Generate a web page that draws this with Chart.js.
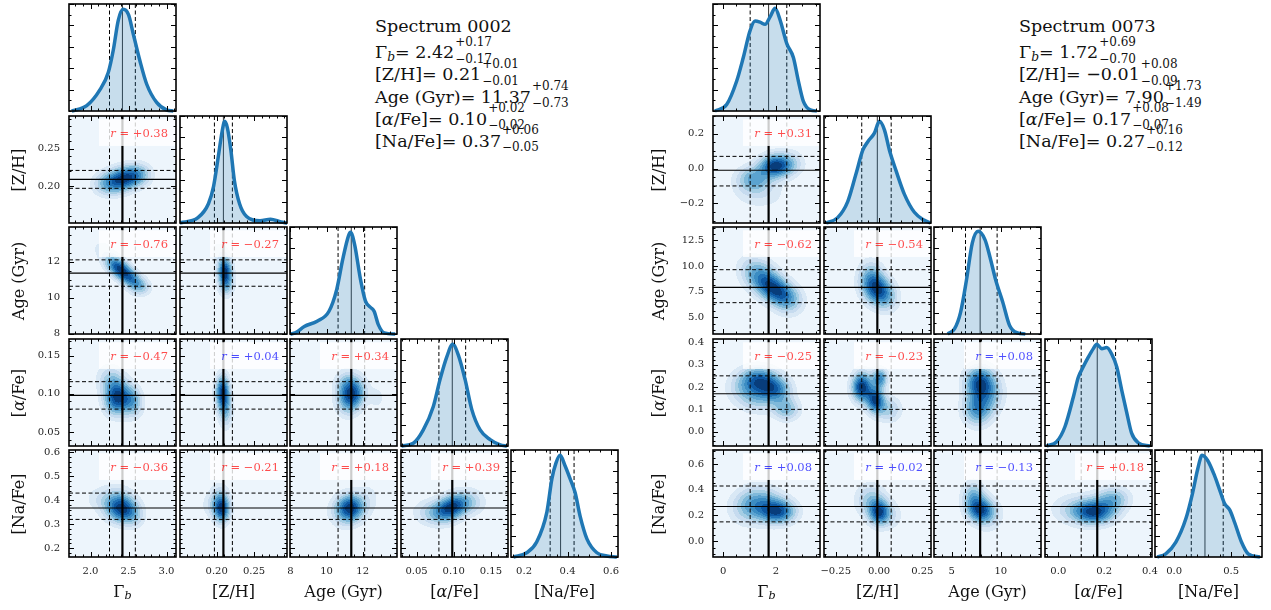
<!DOCTYPE html>
<html>
<head>
<meta charset="utf-8">
<script src="https://cdn.jsdelivr.net/npm/chart.js@4.4.0/dist/chart.umd.min.js"></script>
<style>
  body { margin: 0; background: #fff; width: 1271px; height: 610px; position: relative; overflow: hidden;
         font-family: 'DejaVu Serif', serif; color: #111; }
  canvas { position: absolute; }
  .lbl { position: absolute; font-size: 16px; white-space: nowrap; transform: translate(-50%, -50%); }
  .ylbl { transform: translate(-50%, -50%) rotate(-90deg); }
  .info { position: absolute; font-size: 17.5px; white-space: nowrap; line-height: 20px; height: 20px; }
  .err { position: absolute; font-size: 12px; line-height: 13px; white-space: nowrap; }
  sub { font-size: 70%; vertical-align: -0.25em; line-height: 0; }
</style>
</head>
<body>
<script>
// axis names, shared by both corner plots
const paramLabels = ['Γ<sub><i>b</i></sub>', '[Z/H]', 'Age (Gyr)', '[<i>α</i>/Fe]', '[Na/Fe]'];

// ---------- Spectrum 0002 ----------
const specA_name = 'Spectrum 0002';
const specA_median = [2.42, 0.209, 11.37, 0.098, 0.368];
const specA_errLo = [0.17, 0.012, 0.73, 0.018, 0.048];
const specA_errHi = [0.17, 0.012, 0.74, 0.018, 0.062];
const specA_r = [0.38, -0.76, -0.27, -0.47, 0.04, 0.34, -0.36, -0.21, 0.18, 0.39];

const specA_xRange = [[1.717, 3.125], [0.151, 0.294], [7.98, 13.9], [0.029, 0.173], [0.14, 0.632]];
const specA_yRange = [null, [0.1505, 0.294], [7.98, 13.94], [0.0316, 0.172], [0.163, 0.61]];
const specA_xTickLabels = [['2.0', '2.5', '3.0'], ['0.20', '0.25'], ['8', '10', '12'], ['0.05', '0.10', '0.15'], ['0.2', '0.4', '0.6']];
const specA_yTickLabels = [null, ['0.20', '0.25'], ['8', '10', '12'], ['0.05', '0.10', '0.15'], ['0.2', '0.3', '0.4', '0.5', '0.6']];
const specA_xMinor = [0.1, 0.01, 0.5, 0.01, 0.05];
const specA_yMinor = [null, 0.01, 0.5, 0.01, 0.02];

const kdeA_gamma = [[1.753, 0], [1.95, 0.05], [2.125, 0.2], [2.234, 0.36], [2.30, 0.57], [2.366, 0.85], [2.43, 0.95],
  [2.50, 0.9], [2.563, 0.72], [2.65, 0.47], [2.74, 0.25], [2.87, 0.08], [3.0, 0.01], [3.09, 0]];
const kdeA_zh = [[0.1496, 0], [0.175, 0.05], [0.189, 0.18], [0.1958, 0.34], [0.2028, 0.65], [0.2074, 0.86], [0.2107, 0.95],
  [0.2143, 0.89], [0.219, 0.68], [0.2236, 0.40], [0.2306, 0.18], [0.24, 0.06], [0.258, 0.02], [0.272, 0.035], [0.286, 0.01], [0.2944, 0]];
const kdeA_age = [[8.0, 0.0], [8.27, 0.01], [8.77, 0.07], [9.48, 0.12], [10.13, 0.21], [10.57, 0.42], [10.9, 0.70], [11.22, 0.92],
  [11.33, 0.95], [11.55, 0.84], [11.88, 0.51], [12.15, 0.31], [12.43, 0.25], [12.64, 0.21], [12.86, 0.09], [13.2, 0.01], [13.8, 0]];
const kdeA_alpha = [[0.0297, 0], [0.0455, 0.025], [0.059, 0.15], [0.0725, 0.37], [0.0815, 0.62], [0.0905, 0.83], [0.0986, 0.95],
  [0.1062, 0.85], [0.1153, 0.62], [0.1243, 0.34], [0.1355, 0.15], [0.149, 0.06], [0.1626, 0.01], [0.1716, 0]];
const kdeA_na = [[0.151, 0], [0.212, 0.04], [0.258, 0.14], [0.305, 0.42], [0.328, 0.73], [0.347, 0.88], [0.366, 0.95],
  [0.389, 0.85], [0.412, 0.73], [0.435, 0.60], [0.458, 0.38], [0.489, 0.17], [0.535, 0.04], [0.581, 0.01], [0.627, 0]];

// density components of the pair panels: [x, y, sigmaX, sigmaY, peak, rho]
const blobsA_10 = [[2.42, 0.209, 0.17, 0.012, 1, 0.3], [2.64, 0.214, 0.12, 0.01, 0.3, 0], [2.18, 0.205, 0.12, 0.011, 0.22, 0]];
const blobsA_20 = [[2.36, 11.7, 0.12, 0.45, 1, -0.5], [2.52, 11.1, 0.12, 0.45, 0.75, -0.5], [2.65, 10.6, 0.1, 0.35, 0.35, 0], [2.15, 12.8, 0.12, 0.4, 0.15, 0]];
const blobsA_21 = [[0.211, 11.5, 0.0065, 0.5, 1, 0], [0.213, 10.7, 0.007, 0.45, 0.45, 0], [0.203, 12.6, 0.01, 0.5, 0.15, 0]];
const blobsA_30 = [[2.4, 0.098, 0.14, 0.016, 1, -0.3], [2.3, 0.088, 0.1, 0.013, 0.5, 0], [2.58, 0.09, 0.08, 0.013, 0.3, 0], [2.25, 0.122, 0.12, 0.013, 0.25, 0]];
const blobsA_31 = [[0.208, 0.102, 0.0065, 0.015, 1, 0], [0.212, 0.076, 0.0065, 0.015, 0.4, 0]];
const blobsA_32 = [[11.4, 0.097, 0.5, 0.015, 1, 0.2], [11.1, 0.112, 0.45, 0.013, 0.4, 0], [12.8, 0.095, 0.3, 0.01, 0.18, 0]];
const blobsA_40 = [[2.43, 0.36, 0.13, 0.038, 1, 0], [2.33, 0.39, 0.15, 0.045, 0.6, 0], [2.58, 0.33, 0.1, 0.035, 0.3, 0], [2.08, 0.41, 0.14, 0.035, 0.15, 0]];
const blobsA_41 = [[0.207, 0.36, 0.0075, 0.038, 1, 0], [0.204, 0.4, 0.009, 0.045, 0.45, 0], [0.19, 0.38, 0.01, 0.04, 0.15, 0]];
const blobsA_42 = [[11.35, 0.37, 0.5, 0.038, 1, 0], [11.0, 0.35, 0.6, 0.045, 0.4, 0], [12.3, 0.41, 0.5, 0.05, 0.18, 0]];
const blobsA_43 = [[0.097, 0.37, 0.015, 0.038, 1, 0.3], [0.072, 0.35, 0.018, 0.038, 0.35, 0], [0.122, 0.39, 0.015, 0.038, 0.3, 0]];

// ---------- Spectrum 0073 ----------
const specB_name = 'Spectrum 0073';
const specB_median = [1.72, -0.01, 7.90, 0.17, 0.27];
const specB_errLo = [0.70, 0.09, 1.49, 0.07, 0.12];
const specB_errHi = [0.69, 0.08, 1.73, 0.08, 0.16];
const specB_r = [0.31, -0.62, -0.54, -0.25, -0.23, 0.08, 0.08, 0.02, -0.13, 0.18];

const specB_xRange = [[-0.39, 3.67], [-0.318, 0.30], [3.2, 14.1], [-0.058, 0.409], [-0.168, 0.77]];
const specB_yRange = [null, [-0.313, 0.302], [3.35, 13.8], [-0.064, 0.415], [-0.124, 0.711]];
const specB_xTickLabels = [['0', '2'], ['−0.25', '0.00', '0.25'], ['5', '10'], ['0.0', '0.2', '0.4'], ['0.0', '0.5']];
const specB_yTickLabels = [null, ['−0.2', '0.0', '0.2'], ['5.0', '7.5', '10.0', '12.5'], ['0.0', '0.1', '0.2', '0.3', '0.4'], ['0.0', '0.2', '0.4', '0.6']];
const specB_xMinor = [0.5, 0.0625, 1, 0.05, 0.1];
const specB_yMinor = [null, 0.05, 0.625, 0.02, 0.05];

const kdeB_gamma = [[-0.316, 0], [0.129, 0.06], [0.509, 0.28], [0.76, 0.5], [1.015, 0.75], [1.205, 0.84], [1.395, 0.83], [1.586, 0.81],
  [1.776, 0.88], [1.966, 0.96], [2.156, 0.85], [2.41, 0.63], [2.66, 0.5], [2.85, 0.28], [3.04, 0.09], [3.30, 0.01], [3.55, 0]];
const kdeB_zh = [[-0.306, 0], [-0.239, 0.05], [-0.181, 0.2], [-0.133, 0.46], [-0.094, 0.68], [-0.065, 0.76], [-0.027, 0.84],
  [0.002, 0.95], [0.031, 0.87], [0.06, 0.68], [0.098, 0.49], [0.146, 0.27], [0.204, 0.1], [0.262, 0.025], [0.297, 0]];
const kdeB_age = [[4.6, 0], [5.3, 0.05], [5.9, 0.2], [6.5, 0.5], [7.1, 0.85], [7.7, 0.96], [8.4, 0.88], [8.9, 0.72],
  [9.5, 0.5], [10.2, 0.3], [10.9, 0.08], [11.7, 0.01], [12.5, 0]];
const kdeB_alpha = [[-0.051, 0], [-0.007, 0.04], [0.029, 0.18], [0.066, 0.46], [0.087, 0.64], [0.109, 0.74], [0.131, 0.83], [0.153, 0.91],
  [0.168, 0.95], [0.19, 0.91], [0.211, 0.92], [0.233, 0.86], [0.255, 0.74], [0.277, 0.52], [0.299, 0.31], [0.32, 0.12], [0.349, 0.03], [0.40, 0]];
const kdeB_na = [[-0.148, 0], [-0.074, 0.03], [0.015, 0.14], [0.103, 0.36], [0.162, 0.6], [0.206, 0.82], [0.245, 0.95], [0.295, 0.9],
  [0.354, 0.76], [0.398, 0.63], [0.442, 0.5], [0.487, 0.44], [0.531, 0.32], [0.59, 0.14], [0.649, 0.03], [0.752, 0]];

const blobsB_10 = [[1.95, 0.015, 0.4, 0.045, 1, 0], [1.15, -0.06, 0.45, 0.05, 0.6, 0], [2.5, 0.03, 0.4, 0.05, 0.35, 0], [1.4, -0.15, 0.7, 0.06, 0.2, 0]];
const blobsB_20 = [[1.4, 9.0, 0.5, 1.2, 0.8, -0.3], [2.0, 7.6, 0.45, 1.0, 1, -0.3], [2.5, 6.6, 0.4, 1.0, 0.45, 0]];
const blobsB_21 = [[-0.05, 8.6, 0.05, 1.2, 0.9, 0], [0.0, 7.6, 0.05, 1.0, 1, 0], [0.05, 6.8, 0.05, 1.0, 0.45, 0]];
const blobsB_30 = [[1.35, 0.235, 0.45, 0.04, 0.9, 0], [2.0, 0.19, 0.4, 0.04, 0.85, 0], [2.4, 0.1, 0.35, 0.035, 0.6, 0], [1.3, 0.16, 0.5, 0.05, 0.5, 0], [0.7, 0.2, 0.45, 0.05, 0.3, 0]];
const blobsB_31 = [[-0.1, 0.2, 0.04, 0.045, 0.9, 0], [-0.02, 0.14, 0.035, 0.04, 0.8, 0], [0.005, 0.24, 0.03, 0.03, 0.6, 0], [0.06, 0.1, 0.05, 0.04, 0.3, 0]];
const blobsB_32 = [[7.8, 0.22, 1.0, 0.05, 1, 0], [7.6, 0.1, 1.0, 0.05, 0.75, 0], [9.0, 0.17, 1.0, 0.06, 0.4, 0]];
const blobsB_40 = [[2.1, 0.23, 0.45, 0.065, 1, 0], [1.4, 0.3, 0.55, 0.09, 0.6, 0], [0.9, 0.25, 0.5, 0.09, 0.3, 0]];
const blobsB_41 = [[0.0, 0.225, 0.04, 0.065, 1, 0], [-0.05, 0.32, 0.06, 0.09, 0.5, 0], [0.05, 0.2, 0.06, 0.08, 0.3, 0]];
const blobsB_42 = [[7.9, 0.24, 0.9, 0.065, 1, 0], [7.2, 0.35, 0.8, 0.08, 0.6, 0], [8.8, 0.2, 1.0, 0.09, 0.3, 0]];
const blobsB_43 = [[0.16, 0.225, 0.06, 0.065, 1, 0], [0.24, 0.33, 0.05, 0.065, 0.55, 0], [0.08, 0.25, 0.075, 0.08, 0.35, 0]];

// density axis of the 1D panels
const densityTicks = [0.2, 0.4, 0.6, 0.8, 1.0];

// ---------- layout ----------
const PANEL = 107, STEP_X = 110.5, STEP_Y = 111.5, GRID_TOP = 4;
const ML = 48, MR = 12, MT = 6, MB = 24;
const KDE_BLUE = '#1f77b4';
// Blues colormap, one colour per filled density band
const LEVEL_RGB = [[237, 245, 252], [217, 232, 245], [198, 219, 239], [166, 206, 228], [127, 185, 218],
  [91, 163, 208], [60, 141, 195], [33, 113, 181], [13, 87, 161], [8, 61, 123]];

function num(label) { return parseFloat(label.replace('−', '-')); }
function signed(v, d) { return (v < 0 ? '−' : '+') + Math.abs(v).toFixed(d); }
function plain(v, d) { return (v < 0 ? '−' : '') + Math.abs(v).toFixed(d); }

function drawDensity(chart) {
  const { chartArea: a, scales: { x, y } } = chart;
  const w = Math.round(a.right - a.left), h = Math.round(a.bottom - a.top);
  const blobs = chart.data.datasets[0].data;
  const field = new Float32Array(w * h);
  let max = 0;
  for (let r = 0; r < h; r++) {
    const vy = y.getValueForPixel(a.top + r + 0.5);
    for (let c = 0; c < w; c++) {
      const vx = x.getValueForPixel(a.left + c + 0.5);
      let d = 0;
      for (const b of blobs) {
        const zx = (vx - b.x) / b.sx, zy = (vy - b.y) / b.sy, rho = b.rho;
        d += b.w * Math.exp(-0.5 * (zx * zx - 2 * rho * zx * zy + zy * zy) / (1 - rho * rho));
      }
      field[r * w + c] = d;
      if (d > max) max = d;
    }
  }
  const off = document.createElement('canvas');
  off.width = w; off.height = h;
  const octx = off.getContext('2d');
  const img = octx.createImageData(w, h);
  for (let k = 0; k < w * h; k++) {
    const lvl = Math.min(9, Math.floor(field[k] / max * 10));
    const col = LEVEL_RGB[lvl];
    img.data[k * 4] = col[0]; img.data[k * 4 + 1] = col[1]; img.data[k * 4 + 2] = col[2]; img.data[k * 4 + 3] = 255;
  }
  octx.putImageData(img, 0, 0);
  chart.ctx.drawImage(off, a.left, a.top);
}

function vline(ctx, a, px, width, dash) {
  ctx.lineWidth = width; ctx.setLineDash(dash);
  ctx.beginPath(); ctx.moveTo(px, a.top); ctx.lineTo(px, a.bottom); ctx.stroke();
}
function hline(ctx, a, py, width, dash) {
  ctx.lineWidth = width; ctx.setLineDash(dash);
  ctx.beginPath(); ctx.moveTo(a.left, py); ctx.lineTo(a.right, py); ctx.stroke();
}

function drawDiagLines(chart, o) {
  const { ctx, chartArea: a, scales: { x } } = chart;
  ctx.save();
  ctx.strokeStyle = '#000';
  vline(ctx, a, x.getPixelForValue(o.xq[0]), 1, [4, 2.5]);
  vline(ctx, a, x.getPixelForValue(o.xq[2]), 1, [4, 2.5]);
  ctx.strokeStyle = '#333';
  vline(ctx, a, x.getPixelForValue(o.xq[1]), 1, []);
  ctx.restore();
}

function drawPairLines(chart, o) {
  const { ctx, chartArea: a, scales: { x, y } } = chart;
  ctx.save();
  ctx.beginPath(); ctx.rect(a.left, a.top, a.right - a.left, a.bottom - a.top); ctx.clip();
  ctx.strokeStyle = '#000';
  vline(ctx, a, x.getPixelForValue(o.xq[0]), 1, [4, 2.5]);
  vline(ctx, a, x.getPixelForValue(o.xq[2]), 1, [4, 2.5]);
  hline(ctx, a, y.getPixelForValue(o.yq[0]), 1, [4, 2.5]);
  hline(ctx, a, y.getPixelForValue(o.yq[2]), 1, [4, 2.5]);
  hline(ctx, a, y.getPixelForValue(o.yq[1]), 1.1, []);
  vline(ctx, a, x.getPixelForValue(o.xq[1]), 2.2, []);

  // correlation box
  const w = a.right - a.left, h = a.bottom - a.top;
  ctx.setLineDash([]);
  ctx.fillStyle = 'rgba(255,255,255,0.8)';
  ctx.fillRect(a.left + 0.28 * w, a.top + 0.03 * h, 0.72 * w, 0.25 * h);
  const col = Math.abs(o.r) >= 0.15 ? 'rgba(255,0,0,0.7)' : 'rgba(0,0,255,0.7)';
  const rest = ' = ' + signed(o.r, 2);
  ctx.fillStyle = col;
  ctx.textBaseline = 'middle';
  ctx.font = '11.5px "DejaVu Serif"';
  const restW = ctx.measureText(rest).width;
  const xr = a.right - 8, yr = a.top + 18;
  ctx.textAlign = 'right';
  ctx.fillText(rest, xr, yr);
  ctx.font = 'italic 11.5px "DejaVu Serif"';
  ctx.fillText('r', xr - restW, yr);
  ctx.restore();
}

function minorValues(min, max, step) {
  const out = [];
  for (let k = Math.ceil(min / step - 1e-6); k * step <= max + 1e-9; k++) out.push(k * step);
  return out;
}

function drawFrame(chart, o) {
  const { ctx, chartArea: a, scales: { x, y } } = chart;
  ctx.save();
  ctx.strokeStyle = '#000'; ctx.lineWidth = 1; ctx.setLineDash([]);
  const tick = (px, py, dx, dy) => { ctx.beginPath(); ctx.moveTo(px, py); ctx.lineTo(px + dx, py + dy); ctx.stroke(); };
  const xMajor = o.xTicks.map(num), yMajor = o.yTicks.map(num);
  minorValues(x.min, x.max, o.xMinor).forEach(v => {
    const px = Math.round(x.getPixelForValue(v)) + 0.5;
    tick(px, a.bottom, 0, -2.5); tick(px, a.top, 0, 2.5);
  });
  minorValues(y.min, y.max, o.yMinor).forEach(v => {
    const py = Math.round(y.getPixelForValue(v)) + 0.5;
    tick(a.left, py, 2.5, 0); tick(a.right, py, -2.5, 0);
  });
  xMajor.forEach(v => {
    const px = Math.round(x.getPixelForValue(v)) + 0.5;
    tick(px, a.bottom, 0, -5); tick(px, a.top, 0, 5);
  });
  yMajor.forEach(v => {
    const py = Math.round(y.getPixelForValue(v)) + 0.5;
    tick(a.left, py, 5, 0); tick(a.right, py, -5, 0);
  });
  ctx.lineWidth = 1.6;
  ctx.strokeRect(a.left, a.top, a.right - a.left, a.bottom - a.top);

  ctx.fillStyle = '#222';
  ctx.font = '10px "DejaVu Serif"';
  ctx.textBaseline = 'middle';
  if (o.showX) {
    ctx.textAlign = 'center';
    o.xTicks.forEach(t => ctx.fillText(t, x.getPixelForValue(num(t)), a.bottom + 14.5));
  }
  if (o.showY) {
    ctx.textAlign = 'right';
    o.yTicks.forEach(t => ctx.fillText(t, a.left - 9, y.getPixelForValue(num(t))));
  }
  ctx.restore();
}

const cornerPlugin = {
  id: 'corner',
  beforeDatasetsDraw(chart, args, o) {
    if (o.kind === 'pair') drawDensity(chart);
    else drawDiagLines(chart, o);
  },
  afterDatasetsDraw(chart, args, o) {
    if (o.kind === 'pair') drawPairLines(chart, o);
  },
  afterDraw(chart, args, o) { drawFrame(chart, o); }
};

function addPanel(left, top, datasets, xr, yr, opts) {
  const c = document.createElement('canvas');
  c.width = PANEL + ML + MR; c.height = PANEL + MT + MB;
  c.style.left = (left - ML) + 'px'; c.style.top = (top - MT) + 'px';
  document.body.appendChild(c);
  return new Chart(c.getContext('2d'), {
    data: { datasets: datasets },
    plugins: [cornerPlugin],
    options: {
      responsive: false, animation: false, events: [],
      layout: { padding: { left: ML, right: MR, top: MT, bottom: MB } },
      scales: {
        x: { type: 'linear', display: false, min: xr[0], max: xr[1] },
        y: { type: 'linear', display: false, min: yr[0], max: yr[1] }
      },
      plugins: { legend: { display: false }, tooltip: { enabled: false }, corner: opts }
    }
  });
}

function addLabel(html, cx, cy, rotate) {
  const d = document.createElement('div');
  d.className = rotate ? 'lbl ylbl' : 'lbl';
  d.innerHTML = html;
  d.style.left = cx + 'px'; d.style.top = cy + 'px';
  document.body.appendChild(d);
}

// one line of the summary text, with the errors stacked after the value
function addInfoLine(html, left, top, hi, lo) {
  const d = document.createElement('div');
  d.className = 'info';
  d.style.left = left + 'px'; d.style.top = top + 'px';
  const main = document.createElement('span');
  main.innerHTML = html;
  d.appendChild(main);
  document.body.appendChild(d);
  if (hi === undefined) return;
  const w = main.getBoundingClientRect().width;
  [['+' + hi, -6.5], ['−' + lo, 10.5]].forEach(([txt, dy]) => {
    const e = document.createElement('span');
    e.className = 'err';
    e.textContent = txt;
    e.style.left = (w + 1) + 'px'; e.style.top = dy + 'px';
    d.appendChild(e);
  });
}

function buildCorner(s, gridLeft, yLabelX, infoLeft) {
  const quant = s.median.map((m, k) => [m - s.errLo[k], m, m + s.errHi[k]]);
  const colLeft = j => Math.round(gridLeft + j * STEP_X);
  const rowTop = i => Math.round(GRID_TOP + i * STEP_Y);
  for (let i = 0; i < 5; i++) {
    for (let j = 0; j <= i; j++) {
      const common = {
        xTicks: s.xTickLabels[j], xMinor: s.xMinor[j],
        showX: i === 4, showY: j === 0 && i > 0, xq: quant[j]
      };
      if (i === j) {
        const ds = [{
          type: 'line', data: s.kde[i].map(p => ({ x: p[0], y: p[1] })),
          borderColor: KDE_BLUE, borderWidth: 3.5, pointRadius: 0,
          cubicInterpolationMode: 'monotone', fill: 'origin',
          backgroundColor: 'rgba(31,119,180,0.25)', clip: { left: 0, right: 0, top: 4, bottom: 2 }
        }];
        addPanel(colLeft(j), rowTop(i), ds, s.xRange[j], [0, 1.0],
          Object.assign({ kind: 'diag', yTicks: densityTicks.map(String), yMinor: 0.1 }, common));
      } else {
        const k = i * (i - 1) / 2 + j;
        const ds = [{
          type: 'scatter', pointRadius: 0,
          data: s.blobs[k].map(b => ({ x: b[0], y: b[1], sx: b[2], sy: b[3], w: b[4], rho: b[5] }))
        }];
        addPanel(colLeft(j), rowTop(i), ds, s.xRange[j], s.yRange[i],
          Object.assign({ kind: 'pair', yTicks: s.yTickLabels[i], yMinor: s.yMinor[i], yq: quant[i], r: s.r[k] }, common));
      }
    }
  }
  // axis titles
  for (let j = 0; j < 5; j++) addLabel(paramLabels[j], colLeft(j) + PANEL / 2, 591, false);
  for (let i = 1; i < 5; i++) addLabel(paramLabels[i], yLabelX, rowTop(i) + PANEL / 2, true);

  // summary text: the spectrum name, then one line per parameter
  addInfoLine(s.name, infoLeft, 16.3);
  s.median.forEach((m, k) => addInfoLine(paramLabels[k] + '= ' + plain(m, 2), infoLeft, 42.3 + k * 22.1,
    s.errHi[k].toFixed(2), s.errLo[k].toFixed(2)));
}

buildCorner({
  name: specA_name, median: specA_median, errLo: specA_errLo, errHi: specA_errHi, r: specA_r,
  xRange: specA_xRange, yRange: specA_yRange, xTickLabels: specA_xTickLabels, yTickLabels: specA_yTickLabels,
  xMinor: specA_xMinor, yMinor: specA_yMinor,
  kde: [kdeA_gamma, kdeA_zh, kdeA_age, kdeA_alpha, kdeA_na],
  blobs: [blobsA_10, blobsA_20, blobsA_21, blobsA_30, blobsA_31, blobsA_32, blobsA_40, blobsA_41, blobsA_42, blobsA_43]
}, 69, 18, 375);

buildCorner({
  name: specB_name, median: specB_median, errLo: specB_errLo, errHi: specB_errHi, r: specB_r,
  xRange: specB_xRange, yRange: specB_yRange, xTickLabels: specB_xTickLabels, yTickLabels: specB_yTickLabels,
  xMinor: specB_xMinor, yMinor: specB_yMinor,
  kde: [kdeB_gamma, kdeB_zh, kdeB_age, kdeB_alpha, kdeB_na],
  blobs: [blobsB_10, blobsB_20, blobsB_21, blobsB_30, blobsB_31, blobsB_32, blobsB_40, blobsB_41, blobsB_42, blobsB_43]
}, 713, 658, 1019);
</script>
</body>
</html>
